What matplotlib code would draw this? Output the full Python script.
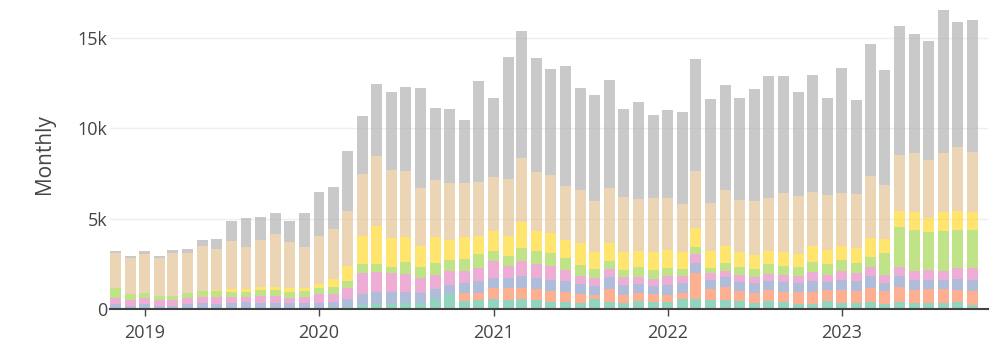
import matplotlib
matplotlib.use("Agg")
import matplotlib.pyplot as plt
import pandas as pd

# monthly values, Nov 2018 .. Oct 2023 (stacked bottom -> top)
months = pd.date_range("2018-11-01", "2023-10-01", freq="MS")

teal = [30, 30, 30, 30, 30, 30, 30, 30, 30, 30, 30, 30, 30, 30, 40, 111, 92, 203, 277, 277,
        332, 332, 554, 831, 425, 498, 535, 480, 535, 480, 369, 369, 314, 535, 369, 314, 425, 369, 369, 535,
        535, 498, 498, 425, 314, 425, 369, 258, 258, 425, 314, 314, 369, 258, 369, 314, 314, 314, 369, 203]
salmon = [0, 0, 0, 0, 0, 0, 0, 0, 0, 0, 0, 0, 0, 0, 0, 0, 0, 0, 0, 0,
          0, 0, 0, 0, 443, 369, 609, 665, 609, 609, 609, 554, 498, 222, 720, 443, 443, 443, 388, 332,
          1440, 591, 701, 554, 554, 609, 554, 665, 665, 609, 720, 665, 775, 720, 831, 720, 775, 775, 665, 775]
lavender = [222, 148, 222, 148, 148, 222, 277, 222, 277, 332, 277, 277, 277, 277, 277, 277, 443, 609, 646, 646,
            591, 535, 535, 480, 554, 665, 554, 554, 665, 609, 609, 609, 554, 498, 665, 554, 498, 443, 554, 554,
            554, 498, 554, 498, 554, 498, 554, 498, 609, 443, 554, 554, 665, 443, 609, 554, 498, 498, 609, 609]
pink = [332, 332, 332, 332, 332, 369, 369, 424, 369, 314, 424, 424, 314, 369, 535, 424, 609, 1163, 1108, 1052,
        997, 831, 775, 775, 665, 720, 941, 665, 831, 775, 775, 609, 443, 443, 443, 443, 388, 388, 498, 388,
        498, 388, 332, 388, 332, 388, 388, 388, 498, 388, 498, 443, 498, 443, 498, 498, 554, 498, 609, 665]
green = [591, 332, 314, 222, 222, 277, 332, 295, 277, 277, 332, 332, 332, 332, 332, 388, 388, 498, 443, 332,
         665, 609, 665, 609, 665, 775, 554, 554, 720, 720, 720, 665, 609, 498, 443, 388, 554, 498, 443, 388,
         388, 277, 443, 443, 443, 554, 498, 498, 554, 609, 609, 554, 554, 1218, 2215, 2270, 2104, 2215, 2104, 2104]
yellow = [0, 0, 0, 0, 0, 0, 0, 92, 166, 166, 166, 166, 222, 166, 222, 443, 831, 1551, 2104, 1606,
          1385, 1163, 1440, 1108, 1218, 997, 1108, 1108, 1440, 1108, 1108, 997, 1218, 941, 997, 997, 886, 997, 997, 941,
          1052, 941, 941, 831, 775, 720, 775, 720, 886, 775, 775, 831, 1052, 775, 886, 997, 775, 1052, 1052, 997]
tan = [1938, 1957, 2160, 2067, 2381, 2215, 2492, 2270, 2658, 2326, 2603, 2935, 2547, 2270, 2658, 2769, 3046, 3434, 3877, 3766,
       3655, 3212, 3157, 3157, 2990, 2990, 2990, 3157, 3544, 3267, 3212, 2990, 2935, 2824, 3046, 3046, 2880, 2990, 2880, 2658,
       3157, 2658, 3101, 2880, 2990, 2935, 3267, 3212, 2990, 3046, 2935, 2990, 3434, 2990, 3101, 3267, 3212, 3267, 3544, 3323]
gray = [111, 148, 166, 148, 166, 222, 332, 554, 1108, 1606, 1274, 1163, 1163, 1883, 2437, 2326, 3323, 3212, 3987, 4320,
        4652, 5538, 3987, 4098, 3489, 5593, 4375, 6756, 7033, 6313, 5870, 6646, 5649, 5870, 5981, 4873, 5372, 4597, 4873, 5095,
        6203, 5760, 5815, 5649, 6203, 6756, 6479, 5760, 6479, 5372, 6923, 5206, 7310, 6369, 7144, 6590, 6590, 7919, 6923, 7310]

series = [teal, salmon, lavender, pink, green, yellow, tan, gray]
colors = ['#66c2a5', '#fc8d62', '#8da0cb', '#e78ac3', '#a6d854', '#ffd92f', '#e5c494', '#b3b3b3']

yticks = [0, 5000, 10000, 15000]
ytick_labels = ['0', '5k', '10k', '15k']
xtick_years = [2019, 2020, 2021, 2022, 2023]

plt.rcParams['font.family'] = ['Open Sans', 'DejaVu Sans']

fig = plt.figure(figsize=(10.02, 3.63), dpi=100)
ax = fig.add_axes([110 / 1002, 54 / 363, 878 / 1002, 309 / 363])

bottom = [0] * len(months)
for vals, col in zip(series, colors):
    ax.bar(months, vals, bottom=bottom, width=23, color=col, alpha=0.7, linewidth=0)
    bottom = [b + v for b, v in zip(bottom, vals)]

ax.set_ylim(0, 17100)
ax.set_xlim(pd.Timestamp("2018-10-20"), pd.Timestamp("2023-11-03"))

ax.set_yticks(yticks)
ax.set_yticklabels(ytick_labels)
ax.set_xticks([pd.Timestamp(f"{y}-01-01") for y in xtick_years])
ax.set_xticklabels([str(y) for y in xtick_years])

ax.grid(axis='y', color='#eeeeee', linewidth=1)
ax.set_axisbelow(True)
for s in ['top', 'right', 'left']:
    ax.spines[s].set_visible(False)
ax.spines['bottom'].set_color('#444444')
ax.spines['bottom'].set_linewidth(1.5)

ax.tick_params(axis='y', length=0, pad=2, labelsize=13, labelcolor='#444444')
ax.tick_params(axis='x', length=5, width=1, color='#444444', pad=6, labelsize=13, labelcolor='#444444')

ax.set_ylabel('Monthly', fontsize=15, color='#444444')
ax.yaxis.set_label_coords(-0.063, 0.5)

fig.savefig('out.png', dpi=100)
